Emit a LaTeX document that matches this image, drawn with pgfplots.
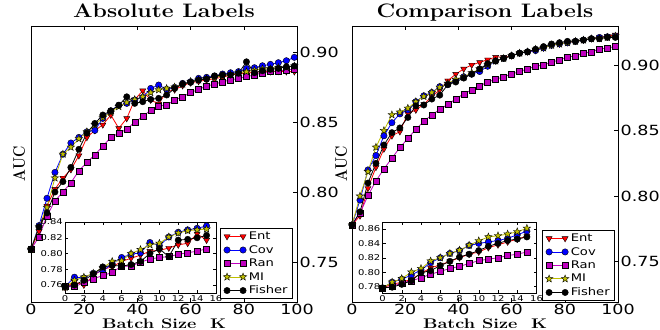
\documentclass[border=0pt]{standalone}
\usepackage{graphicx}
\usepackage{pgfplots}
\pgfplotsset{compat=1.18}
\usepackage{fontspec}
\newfontfamily\tickfont[FakeStretch=1.25]{DejaVu Sans}
\usetikzlibrary{plotmarks}

\definecolor{mred}{rgb}{1,0,0}
\definecolor{mblue}{rgb}{0,0,1}
\definecolor{mmag}{rgb}{0.75,0,0.75}
\definecolor{myel}{rgb}{0.75,0.75,0}

\pgfdeclareplotmark{fstar}{%
\pgfpathmoveto{\pgfpointpolar{90}{1.3\pgfplotmarksize}}%
\pgfpathlineto{\pgfpointpolar{126}{0.55\pgfplotmarksize}}%
\pgfpathlineto{\pgfpointpolar{162}{1.3\pgfplotmarksize}}%
\pgfpathlineto{\pgfpointpolar{198}{0.55\pgfplotmarksize}}%
\pgfpathlineto{\pgfpointpolar{234}{1.3\pgfplotmarksize}}%
\pgfpathlineto{\pgfpointpolar{270}{0.55\pgfplotmarksize}}%
\pgfpathlineto{\pgfpointpolar{306}{1.3\pgfplotmarksize}}%
\pgfpathlineto{\pgfpointpolar{342}{0.55\pgfplotmarksize}}%
\pgfpathlineto{\pgfpointpolar{18}{1.3\pgfplotmarksize}}%
\pgfpathlineto{\pgfpointpolar{54}{0.55\pgfplotmarksize}}%
\pgfpathclose
\pgfusepathqfillstroke}

\newcommand{\wide}[2][1.2]{\scalebox{#1}[1]{#2}}
\newcommand{\labfont}{\fontsize{14}{16}\selectfont\bfseries}
\newcommand{\xlab}{\labfont\wide[1.3]{Batch Size\ \ K}}
\newcommand{\ylab}{\labfont\scalebox{1}[1.2]{AUC}}

\pgfplotsset{
  ent/.style={color=mred, line width=0.8bp, mark=triangle*, mark size=3.5bp, mark options={rotate=180, fill=mred, draw=black, line width=0.4bp}},
  cov/.style={color=mblue, line width=0.8bp, mark=*, mark size=3.2bp, mark options={fill=mblue, draw=black, line width=0.4bp}},
  ran/.style={color=mmag, line width=0.8bp, mark=square*, mark size=3bp, mark options={fill=mmag, draw=black, line width=0.4bp}},
  mi/.style={color=myel, line width=0.8bp, mark=fstar, mark size=3bp, mark options={fill=myel, draw=black, line width=0.4bp}},
  fis/.style={color=black, line width=0.8bp, mark=*, mark size=3.2bp, mark options={fill=black, draw=black, line width=0.4bp}},
  mainax/.style={
    scale only axis, width=266bp, height=276bp,
    xmin=0, xmax=100, xtick={0,20,40,60,80,100},
    ytick={0.75,0.80,0.85,0.90},
    ytick pos=right, yticklabel pos=right,
    tick align=inside, major tick length=4bp,
    tick style={black, line width=0.6bp},
    axis line style={line width=0.8bp},
    tick label style={font=\tickfont\fontsize{14bp}{16bp}\selectfont},
    /pgf/number format/assume math mode=true,
    xticklabel style={inner ysep=1.5bp},
    yticklabel style={inner xsep=2.5bp, /pgf/number format/fixed, /pgf/number format/fixed zerofill, /pgf/number format/precision=2},
    scaled ticks=false,
    title style={font=\bfseries\fontsize{19.5bp}{22bp}\selectfont, at={(0.5,1)}, anchor=base, yshift=2.5bp},
    xlabel style={at={(axis description cs:0.5,0)}, anchor=base, yshift=-26bp},
    ylabel style={anchor=center},
    legend cell align=left,
    legend image code/.code={\draw[#1,mark repeat=1,mark phase=1] plot coordinates {(0bp,0bp) (16bp,0bp)};},
    legend style={draw=black, line width=0.8bp, font=\tickfont\fontsize{10.5bp}{12bp}\selectfont, inner xsep=3bp, inner ysep=1.5bp, row sep=0.3bp, anchor=north east},
  },
  insetax/.style={
    scale only axis, width=151bp, height=71.5bp,
    xmin=0, xmax=16, xtick={0,2,4,6,8,10,12,14,16},
    axis background/.style={fill=white},
    tick align=inside, major tick length=3bp,
    tick style={black, line width=0.5bp},
    axis line style={line width=0.8bp},
    tick label style={font=\tickfont\fontsize{8bp}{9bp}\selectfont},
    /pgf/number format/assume math mode=true,
    xticklabel style={inner ysep=1.5bp},
    yticklabel style={inner xsep=2bp, /pgf/number format/fixed, /pgf/number format/fixed zerofill, /pgf/number format/precision=2},
    scaled ticks=false,
    every axis plot/.append style={mark size=2.6bp},
  },
}

\begin{document}
\begin{tikzpicture}
\useasboundingbox (0,0) rectangle (660bp,330bp);

% ---------------- Left main ----------------
\begin{axis}[mainax, at={(31bp,28bp)}, anchor=south west,
  ymin=0.7214, ymax=0.9186,
  title={\wide[1.18]{Absolute Labels}}, xlabel={\xlab}, ylabel={\ylab},
  ylabel style={at={(axis description cs:-0.045,0.5)}},
  legend style={at={(0.985,0.268)}}]
\addplot[ent] coordinates {(0,0.759)(3,0.772)(6,0.790)(9,0.802)(12,0.810)(15,0.816)(18,0.826)(21,0.839)(24,0.844)(27,0.848)(30,0.855)(33,0.8455)(36,0.8526)(39,0.866)(42,0.8724)(45,0.8657)(48,0.863)(51,0.8717)(54,0.873)(57,0.876)(60,0.878)(63,0.879)(66,0.880)(69,0.881)(72,0.882)(75,0.8835)(78,0.8845)(81,0.885)(84,0.8855)(87,0.886)(90,0.886)(93,0.8862)(96,0.886)(99,0.886)};
\addlegendentry{Ent}
\addplot[cov] coordinates {(0,0.759)(3,0.776)(6,0.7955)(9,0.814)(12,0.827)(15,0.835)(18,0.839)(21,0.843)(24,0.844)(27,0.8526)(30,0.858)(33,0.862)(36,0.8633)(39,0.8657)(42,0.8676)(45,0.874)(48,0.8764)(51,0.8733)(54,0.8748)(57,0.8776)(60,0.8788)(63,0.8812)(66,0.8819)(69,0.8829)(72,0.8843)(75,0.8852)(78,0.886)(81,0.8883)(84,0.8888)(87,0.8902)(90,0.8912)(93,0.8924)(96,0.8938)(99,0.8962)};
\addlegendentry{Cov}
\addplot[ran] coordinates {(0,0.759)(3,0.768)(6,0.783)(9,0.7936)(12,0.800)(15,0.8066)(18,0.8152)(21,0.821)(24,0.8266)(27,0.8327)(30,0.839)(33,0.842)(36,0.8448)(39,0.850)(42,0.8538)(45,0.8586)(48,0.8614)(51,0.8621)(54,0.8657)(57,0.868)(60,0.871)(63,0.8733)(66,0.8757)(69,0.877)(72,0.8788)(75,0.880)(78,0.8812)(81,0.8824)(84,0.8836)(87,0.8852)(90,0.886)(93,0.8866)(96,0.887)(99,0.888)};
\addlegendentry{Ran}
\addplot[mi] coordinates {(0,0.759)(3,0.775)(6,0.789)(9,0.810)(12,0.827)(15,0.832)(18,0.838)(21,0.843)(24,0.848)(27,0.853)(30,0.857)(33,0.861)(36,0.864)(39,0.866)(42,0.868)(45,0.871)(48,0.873)(51,0.874)(54,0.875)(57,0.877)(60,0.879)(63,0.880)(66,0.881)(69,0.882)(72,0.883)(75,0.884)(78,0.885)(81,0.886)(84,0.887)(87,0.888)(90,0.888)(93,0.889)(96,0.889)(99,0.890)};
\addlegendentry{MI}
\addplot[fis] coordinates {(0,0.759)(3,0.775)(6,0.785)(9,0.800)(12,0.8074)(15,0.8176)(18,0.8305)(21,0.842)(24,0.849)(27,0.855)(30,0.858)(33,0.862)(36,0.868)(39,0.8633)(42,0.8645)(45,0.8662)(48,0.8669)(51,0.8693)(54,0.874)(57,0.8771)(60,0.8783)(63,0.880)(66,0.8807)(69,0.8829)(72,0.8836)(75,0.8836)(78,0.8848)(81,0.893)(84,0.8852)(87,0.8866)(90,0.8876)(93,0.8883)(96,0.8895)(99,0.890)};
\addlegendentry{Fisher}
\end{axis}

% ---------------- Left inset ----------------
\begin{axis}[insetax, at={(65bp,36.5bp)}, anchor=south west,
  ymin=0.7493, ymax=0.8400, ytick={0.76,0.78,0.80,0.82,0.84}]
\addplot[ent] coordinates {(0,0.757)(1,0.764)(2,0.760)(3,0.772)(4,0.780)(5,0.783)(6,0.790)(7,0.794)(8,0.798)(9,0.803)(10,0.804)(11,0.807)(12,0.811)(13,0.813)(14,0.825)(15,0.817)};
\addplot[cov] coordinates {(0,0.758)(1,0.770)(2,0.769)(3,0.775)(4,0.778)(5,0.787)(6,0.795)(7,0.799)(8,0.801)(9,0.814)(10,0.810)(11,0.821)(12,0.827)(13,0.830)(14,0.832)(15,0.835)};
\addplot[ran] coordinates {(0,0.758)(1,0.758)(2,0.763)(3,0.768)(4,0.772)(5,0.776)(6,0.784)(7,0.784)(8,0.789)(9,0.793)(10,0.795)(11,0.796)(12,0.799)(13,0.801)(14,0.803)(15,0.806)};
\addplot[mi] coordinates {(0,0.757)(1,0.766)(2,0.770)(3,0.775)(4,0.782)(5,0.790)(6,0.791)(7,0.800)(8,0.805)(9,0.811)(10,0.813)(11,0.821)(12,0.826)(13,0.829)(14,0.830)(15,0.831)};
\addplot[fis] coordinates {(0,0.758)(1,0.760)(2,0.766)(3,0.774)(4,0.783)(5,0.785)(6,0.784)(7,0.786)(8,0.790)(9,0.800)(10,0.806)(11,0.796)(12,0.817)(13,0.818)(14,0.820)(15,0.823)};
\end{axis}

% ---------------- Right main ----------------
\begin{axis}[mainax, at={(352bp,28bp)}, anchor=south west,
  ymin=0.7193, ymax=0.9297,
  title={\wide[1.18]{Comparison Labels}}, xlabel={\xlab}, ylabel={\ylab},
  ylabel style={at={(axis description cs:-0.041,0.5)}},
  legend style={at={(0.989,0.261)}}]
\addplot[ent] coordinates {(0,0.778)(3,0.785)(6,0.806)(9,0.822)(12,0.836)(15,0.846)(18,0.8492)(21,0.863)(24,0.8657)(27,0.870)(30,0.876)(33,0.881)(36,0.888)(39,0.893)(42,0.897)(45,0.900)(48,0.902)(51,0.904)(54,0.906)(57,0.906)(60,0.907)(63,0.909)(66,0.910)(69,0.911)(72,0.913)(75,0.915)(78,0.916)(81,0.917)(84,0.918)(87,0.919)(90,0.920)(93,0.921)(96,0.922)(99,0.923)};
\addlegendentry{Ent}
\addplot[cov] coordinates {(0,0.778)(3,0.797)(6,0.820)(9,0.831)(12,0.846)(15,0.856)(18,0.8627)(21,0.8657)(24,0.872)(27,0.8765)(30,0.879)(33,0.8835)(36,0.885)(39,0.888)(42,0.891)(45,0.893)(48,0.895)(51,0.899)(54,0.903)(57,0.905)(60,0.907)(63,0.909)(66,0.910)(69,0.911)(72,0.913)(75,0.915)(78,0.916)(81,0.917)(84,0.918)(87,0.919)(90,0.920)(93,0.921)(96,0.9215)(99,0.922)};
\addlegendentry{Cov}
\addplot[ran] coordinates {(0,0.778)(3,0.787)(6,0.8004)(9,0.8116)(12,0.8207)(15,0.829)(18,0.837)(21,0.844)(24,0.851)(27,0.857)(30,0.862)(33,0.866)(36,0.870)(39,0.874)(42,0.878)(45,0.881)(48,0.884)(51,0.887)(54,0.889)(57,0.891)(60,0.893)(63,0.895)(66,0.897)(69,0.899)(72,0.900)(75,0.902)(78,0.904)(81,0.906)(84,0.907)(87,0.909)(90,0.910)(93,0.912)(96,0.913)(99,0.914)};
\addlegendentry{Ran}
\addplot[mi] coordinates {(0,0.778)(3,0.800)(6,0.8187)(9,0.8373)(12,0.850)(15,0.862)(18,0.864)(21,0.867)(24,0.872)(27,0.876)(30,0.879)(33,0.883)(36,0.886)(39,0.889)(42,0.891)(45,0.894)(48,0.897)(51,0.900)(54,0.903)(57,0.905)(60,0.907)(63,0.909)(66,0.910)(69,0.912)(72,0.913)(75,0.915)(78,0.916)(81,0.917)(84,0.918)(87,0.919)(90,0.920)(93,0.920)(96,0.921)(99,0.922)};
\addlegendentry{MI}
\addplot[fis] coordinates {(0,0.778)(3,0.788)(6,0.810)(9,0.825)(12,0.839)(15,0.8484)(18,0.852)(21,0.860)(24,0.8688)(27,0.8695)(30,0.874)(33,0.877)(36,0.885)(39,0.887)(42,0.890)(45,0.893)(48,0.897)(51,0.901)(54,0.903)(57,0.905)(60,0.907)(63,0.909)(66,0.910)(69,0.912)(72,0.914)(75,0.916)(78,0.917)(81,0.918)(84,0.918)(87,0.919)(90,0.920)(93,0.920)(96,0.921)(99,0.921)};
\addlegendentry{Fisher}
\end{axis}

% ---------------- Right inset ----------------
\begin{axis}[insetax, at={(382.5bp,36.5bp)}, anchor=south west, width=154bp,
  ymin=0.7702, ymax=0.8698, ytick={0.78,0.80,0.82,0.84,0.86}]
\addplot[ent] coordinates {(0,0.778)(1,0.783)(2,0.786)(3,0.790)(4,0.798)(5,0.806)(6,0.810)(7,0.815)(8,0.820)(9,0.825)(10,0.828)(11,0.834)(12,0.838)(13,0.842)(14,0.846)(15,0.850)};
\addplot[cov] coordinates {(0,0.778)(1,0.786)(2,0.790)(3,0.796)(4,0.803)(5,0.813)(6,0.820)(7,0.826)(8,0.830)(9,0.837)(10,0.840)(11,0.842)(12,0.844)(13,0.847)(14,0.852)(15,0.857)};
\addplot[ran] coordinates {(0,0.778)(1,0.780)(2,0.785)(3,0.788)(4,0.792)(5,0.797)(6,0.801)(7,0.805)(8,0.808)(9,0.812)(10,0.816)(11,0.818)(12,0.820)(13,0.823)(14,0.825)(15,0.828)};
\addplot[mi] coordinates {(0,0.778)(1,0.786)(2,0.791)(3,0.800)(4,0.805)(5,0.8155)(6,0.820)(7,0.826)(8,0.8305)(9,0.8375)(10,0.8436)(11,0.849)(12,0.8506)(13,0.853)(14,0.8562)(15,0.861)};
\addplot[fis] coordinates {(0,0.778)(1,0.779)(2,0.783)(3,0.788)(4,0.799)(5,0.802)(6,0.809)(7,0.815)(8,0.821)(9,0.825)(10,0.830)(11,0.836)(12,0.840)(13,0.844)(14,0.846)(15,0.849)};
\end{axis}
\end{tikzpicture}
\end{document}
